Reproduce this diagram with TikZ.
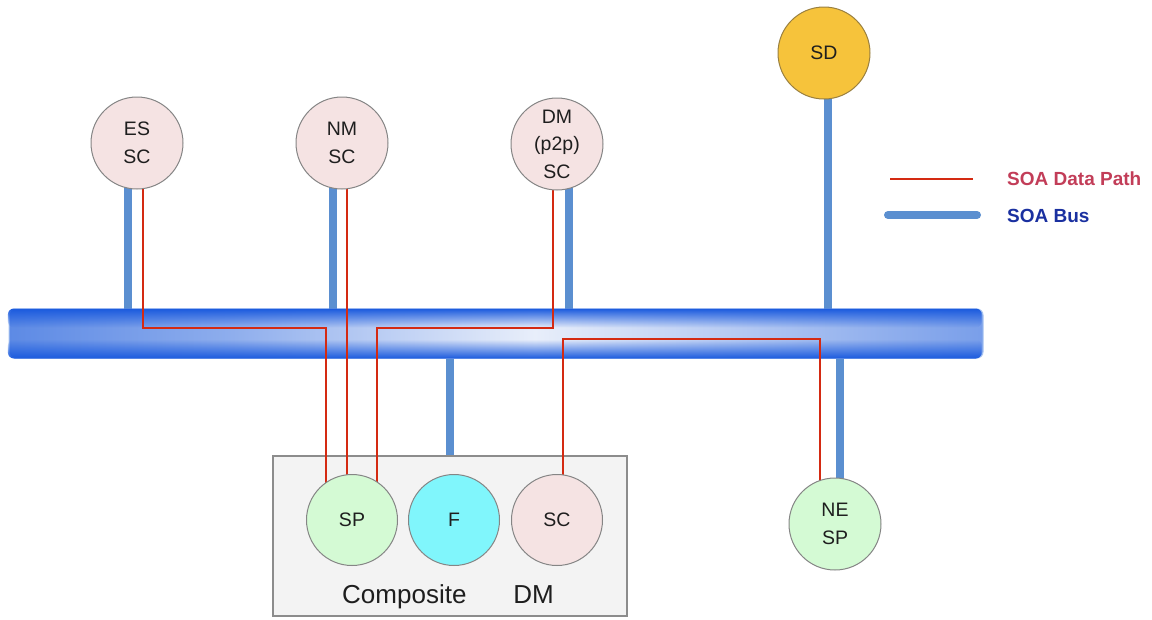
\documentclass[tikz,border=0pt]{standalone}
\usepackage{fontspec}
\setmainfont{Liberation Sans}
\usetikzlibrary{calc,fadings}
\definecolor{busdark}{HTML}{0047D6}
\definecolor{busband}{HTML}{1A5ADE}
\definecolor{buslight}{HTML}{E8EEFA}
\definecolor{busedge}{HTML}{A8C4F0}
\definecolor{linkblue}{HTML}{5B8FD0}
\definecolor{pathred}{HTML}{D42A12}
\definecolor{pinkfill}{HTML}{F5E3E3}
\definecolor{greenfill}{HTML}{D4FAD4}
\definecolor{cyanfill}{HTML}{80F6FC}
\definecolor{sdfill}{HTML}{F6C33B}
\definecolor{sdedge}{HTML}{9A8040}
\definecolor{circedge}{HTML}{858585}
\definecolor{boxfill}{HTML}{F3F3F3}
\definecolor{boxedge}{HTML}{8C8C8C}
\definecolor{legred}{HTML}{C23D58}
\definecolor{legblue}{HTML}{1A30A0}
\definecolor{txt}{HTML}{1E1E1E}
\pgfdeclarehorizontalshading{busH}{100bp}{%
  color(0bp)=(busdark); color(6bp)=(busdark!92!white);
  color(20bp)=(busdark!72!white); color(36bp)=(busdark!45!white);
  color(52bp)=(buslight); color(68bp)=(busdark!40!white);
  color(86bp)=(busdark!72!white); color(100bp)=(busdark)}
\tikzfading[name=fadedown, top color=transparent!0, bottom color=transparent!100]
\tikzfading[name=fadeup, top color=transparent!100, bottom color=transparent!0]
\pgfdeclarelayer{back}
\pgfdeclarelayer{front}
\pgfsetlayers{back,main,front}
\tikzset{
  comp/.style={circle, minimum size=92pt, inner sep=0pt, align=center, draw=circedge, line width=1pt,
    text=txt, font=\fontsize{19.5}{28}\selectfont},
  pinkcomp/.style={comp, fill=pinkfill},
  buslink/.style={line width=7.5pt, draw=linkblue},
  datapath/.style={line width=2.2pt, draw=pathred},
  buspipe/.style={shade, shading=busH, draw=busedge, line width=1pt, rounded corners=6pt,
    minimum width=974pt, minimum height=49pt, inner sep=0pt},
  busstripe/.style={fill=busband, rounded corners=6pt},
  compositebox/.style={fill=boxfill, draw=boxedge, line width=2pt, minimum width=354pt, minimum height=160pt, inner sep=0pt},
  legtext/.style={anchor=base west, font=\bfseries\fontsize{19}{22}\selectfont, inner sep=0pt}
}
\begin{document}
\begin{tikzpicture}[x=1pt,y=-1pt]
\useasboundingbox (0,0) rectangle (1152,619);
% main layer: bus and composite box
\node[buspipe] (bus) at (496,333.5) {};
\fill[busstripe, path fading=fadedown] (bus.north west) rectangle ($(bus.north east)+(0,19)$);
\fill[busstripe, path fading=fadeup] ($(bus.south west)+(0,-19)$) rectangle (bus.south east);
\node[compositebox] (box) at (450,536) {};
\node[anchor=base west, inner sep=0pt, text=txt, font=\fontsize{26}{30}\selectfont] (boxlabel) at (342,603) {Composite\hspace{47pt}DM};
% front layer: components
\begin{pgfonlayer}{front}
\node[pinkcomp] (es) at (137,143) {ES\\SC};
\node[pinkcomp] (nm) at (342,143) {NM\\SC};
\node[pinkcomp, font=\fontsize{19.5}{27.5}\selectfont] (dm) at (557,144) {DM\\(p2p)\\SC};
\node[comp, fill=sdfill, draw=sdedge] (sd) at (824,53) {SD};
\node[comp, fill=greenfill, minimum size=91pt] (sp) at (352,520) {SP};
\node[comp, fill=cyanfill, minimum size=91pt] (f) at (454,520) {F};
\node[pinkcomp, minimum size=91pt] (scc) at (557,520) {SC};
\node[comp, fill=greenfill] (ne) at (835,524) {NE\\SP};
\end{pgfonlayer}
% helper coordinates
\coordinate (esB) at ($(es.center)+(-9,0)$);
\coordinate (nmB) at ($(nm.center)+(-9,0)$);
\coordinate (dmB) at ($(dm.center)+(12,0)$);
\coordinate (sdB) at ($(sd.center)+(4,0)$);
\coordinate (neB) at ($(ne.center)+(5,0)$);
\coordinate (esR) at ($(es.center)+(6,0)$);
\coordinate (nmR) at ($(nm.center)+(5,0)$);
\coordinate (dmR) at ($(dm.center)+(-4,0)$);
\coordinate (scR) at ($(scc.center)+(6,0)$);
\coordinate (spL) at ($(sp.center)+(-26,0)$);
\coordinate (spR) at ($(sp.center)+(25,0)$);
\coordinate (neL) at ($(ne.center)+(-15,0)$);
\coordinate (hy1) at (0,328);
\coordinate (hy2) at (0,339);
% back layer: bus links
\begin{pgfonlayer}{back}
\draw[buslink] (esB) -- (esB |- bus.north);
\draw[buslink] (nmB) -- (nmB |- bus.north);
\draw[buslink] (dmB) -- (dmB |- bus.north);
\draw[buslink] (sdB) -- (sdB |- bus.north);
\draw[buslink] (box.north) -- (box.north |- bus.south);
\draw[buslink] (neB) -- (neB |- bus.south);
\end{pgfonlayer}
% data paths
\draw[datapath] (esR) |- (hy1 -| spL) -- (spL);
\draw[datapath] (nmR) -- (nmR |- sp.center);
\draw[datapath] (dmR) |- (hy1 -| spR) -- (spR);
\draw[datapath] (scR) |- (hy2 -| neL) -- (neL);
% legend
\coordinate (lr1) at (890,179);
\coordinate (lr2) at (973,179);
\coordinate (lb1) at (888,215);
\coordinate (lb2) at (977,215);
\draw[datapath] (lr1) -- (lr2);
\draw[buslink, line width=8pt, line cap=round] (lb1) -- (lb2);
\node[legtext, text=legred] (legdata) at (1007,185) {SOA Data Path};
\node[legtext, text=legblue] (legbus) at (1007,222) {SOA Bus};
\end{tikzpicture}
\end{document}
